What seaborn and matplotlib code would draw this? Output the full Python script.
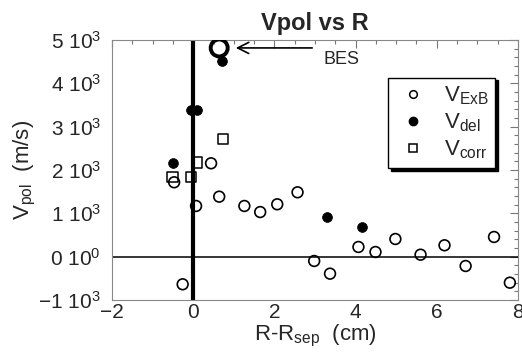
#!/usr/bin/env python3

# import packages
import pandas as pd
import seaborn as sns
import matplotlib.pyplot as plt
from matplotlib.lines import Line2D
from matplotlib.ticker import MultipleLocator

# data
'''V_ExB (open circles)'''
exb_r = [-0.47, -0.26, 0.07, 0.44, 0.64, 1.26, 1.65, 2.07, 2.57, 2.98, 3.37,
         4.07, 4.49, 4.98, 5.60, 6.19, 6.71, 7.41, 7.80]
exb_v = [1717, -637, 1170, 2155, 1385, 1170, 1030, 1209, 1486, -99, -392,
         224, 108, 408, 46, 263, -215, 455, -600]
'''V_del (filled circles)'''
del_r = [-0.51, -0.05, 0.10, 0.72, 3.29, 4.15]
del_v = [2170, 3385, 3385, 4516, 909, 678]
'''V_corr (open squares)'''
corr_r = [-0.51, -0.05, 0.09, 0.73]
corr_v = [1832, 1832, 2170, 2709]
'''BES point'''
bes_r = [0.64]
bes_v = [4817]

y_ticks = [-1000, 0, 1000, 2000, 3000, 4000, 5000]
y_ticklabels = [r'$\mathregular{-1\ 10^3}$', r'$\mathregular{0\ 10^0}$',
                r'$\mathregular{1\ 10^3}$', r'$\mathregular{2\ 10^3}$',
                r'$\mathregular{3\ 10^3}$', r'$\mathregular{4\ 10^3}$',
                r'$\mathregular{5\ 10^3}$']
x_ticks = [-2, 0, 2, 4, 6, 8]

df_exb = pd.DataFrame({'r': exb_r, 'v': exb_v})
df_del = pd.DataFrame({'r': del_r, 'v': del_v})
df_corr = pd.DataFrame({'r': corr_r, 'v': corr_v})
df_bes = pd.DataFrame({'r': bes_r, 'v': bes_v})

# style
sns.set_style('white')
plt.rcParams['font.family'] = ['Liberation Sans', 'DejaVu Sans']
plt.rcParams['mathtext.fontset'] = 'custom'
plt.rcParams['mathtext.rm'] = 'Liberation Sans'
plt.rcParams['mathtext.it'] = 'Liberation Sans'

f = plt.figure(figsize=(5.22, 3.54), dpi=100)
ax = f.add_axes([0.2146, 0.1525, 0.7777, 0.7345])

# reference lines
ax.axvline(0, color='black', lw=3, zorder=1)
ax.axhline(0, color='black', lw=1.1, zorder=1)

sns.scatterplot(data=df_exb, x='r', y='v', ax=ax, marker='o', s=60,
                facecolors='none', edgecolor='black', linewidth=1.2, zorder=3)
sns.scatterplot(data=df_del, x='r', y='v', ax=ax, marker='o', s=50,
                color='black', edgecolor='black', linewidth=0.5, zorder=3)
sns.scatterplot(data=df_corr, x='r', y='v', ax=ax, marker='s', s=55,
                facecolors='none', edgecolor='black', linewidth=1.1, zorder=3)
sns.scatterplot(data=df_bes, x='r', y='v', ax=ax, marker='o', s=150,
                facecolors='none', edgecolor='black', linewidth=2.8, zorder=4)

# BES annotation
ax.annotate('', xy=(0.98, 4817), xytext=(3.0, 4817),
            arrowprops=dict(arrowstyle='->', color='black', lw=1.2,
                            mutation_scale=20))
ax.text(3.2, 4560, 'BES', fontsize=13, ha='left', va='center')

# axes
ax.set_xlim(-2, 8)
ax.set_ylim(-1000, 5000)
ax.set_xticks(x_ticks)
ax.set_yticks(y_ticks)
ax.set_yticklabels(y_ticklabels, va='center_baseline')
ax.xaxis.set_minor_locator(MultipleLocator(0.5))
ax.yaxis.set_minor_locator(MultipleLocator(200))
ax.tick_params(which='both', direction='in', top=True, right=True,
               color='#777777', labelsize=15, width=0.8)
ax.tick_params(which='major', length=6, pad=2)
ax.tick_params(which='minor', length=3)
ax.tick_params(axis='y', which='major', pad=8)
for s in ax.spines.values():
    s.set_color('#888888')
    s.set_linewidth(0.8)

ax.set_xlabel(r'$\mathregular{R\text{-}R_{sep}}$  (cm)', fontsize=16, labelpad=1)
ax.set_ylabel(r'$\mathregular{V_{pol}}$  (m/s)', fontsize=16, labelpad=0)
ax.set_title('Vpol vs R', weight='bold', fontsize=17, pad=7)

# legend
handles = [
    Line2D([], [], ls='none', marker='o', ms=5.5, mfc='none', mec='black', mew=1.1),
    Line2D([], [], ls='none', marker='o', ms=6, mfc='black', mec='black'),
    Line2D([], [], ls='none', marker='s', ms=5.5, mfc='none', mec='black', mew=1.1),
]
labels = [r'$\mathregular{V_{ExB}}$', r'$\mathregular{V_{del}}$',
          r'$\mathregular{V_{corr}}$']
leg = ax.legend(handles, labels, loc='upper left', bbox_to_anchor=(0.68, 0.855),
                fontsize=16, frameon=True, fancybox=False, framealpha=1,
                edgecolor='black', handletextpad=0.6, labelspacing=0.2,
                borderpad=0.3, handlelength=1.6, borderaxespad=0,
                shadow={'color': 'black', 'alpha': 1})
leg.get_frame().set_linewidth(1.0)

plt.savefig('out.png', dpi=100)
